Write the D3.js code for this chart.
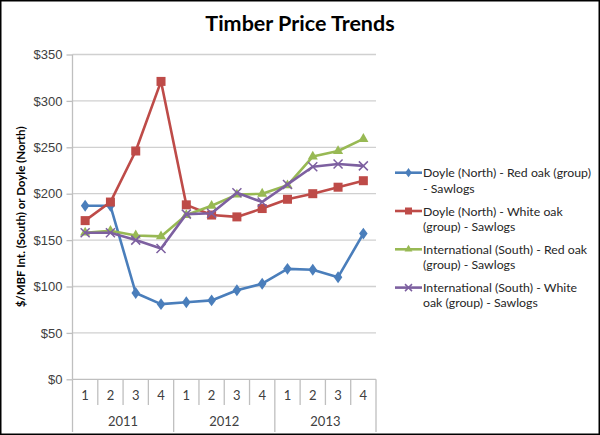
<!DOCTYPE html>
<html>
<head>
<meta charset="utf-8">
<script src="https://cdn.jsdelivr.net/npm/d3@7"></script>
<style>
  html, body { margin: 0; padding: 0; background: #fff; }
  svg { display: block; font-family: Lato, "Open Sans", sans-serif; }
  .tick-label { fill: #404040; font-size: 13px; }
  .legend text { fill: #262626; font-size: 12.3px; }
</style>
</head>
<body>
<div id="chart"></div>
<script>
// quarters and years on the category axis
const quarters = ["1", "2", "3", "4", "1", "2", "3", "4", "1", "2", "3", "4"];
const years = ["2011", "2012", "2013"];

// $/MBF
const doyleRedOak = [187, 187, 93, 81, 83, 85, 96, 103, 119, 118, 110, 157];
const doyleWhiteOak = [171, 191, 246, 321, 188, 177, 175, 184, 194, 200, 207, 214];
const intlRedOak = [158, 160, 155, 154, 177, 187, 199, 200, 209, 240, 246, 259];
const intlWhiteOak = [158, 158, 150, 141, 178, 179, 201, 191, 210, 229, 232, 230];

const yTicks = [0, 50, 100, 150, 200, 250, 300, 350];

const seriesNames = [
    ["Doyle (North) - Red oak (group)", "- Sawlogs"],
    ["Doyle (North) - White oak", "(group) - Sawlogs"],
    ["International (South) - Red oak", "(group) - Sawlogs"],
    ["International (South) - White", "oak (group) - Sawlogs"]
];

const series = [
    { values: doyleRedOak, color: "#4A7EBB", marker: "diamond" },
    { values: doyleWhiteOak, color: "#BE4B48", marker: "square" },
    { values: intlRedOak, color: "#98B954", marker: "triangle" },
    { values: intlWhiteOak, color: "#7D60A0", marker: "x" }
];

const width = 600, height = 435;
const plot = { left: 72.5, right: 376, top: 54.5, bottom: 379.3 };

const svg = d3.select("#chart")
    .append("svg")
    .attr("width", width)
    .attr("height", height);

// outer frame
svg.append("rect")
    .attr("x", 0.75).attr("y", 0.75)
    .attr("width", width - 1.5).attr("height", height - 1.5)
    .attr("fill", "#fff")
    .attr("stroke", "#000")
    .attr("stroke-width", 1.5);

svg.append("text")
    .attr("x", 300)
    .attr("y", 31)
    .attr("text-anchor", "middle")
    .attr("font-size", "21.5px")
    .attr("font-weight", "bold")
    .attr("fill", "#000")
    .text("Timber Price Trends");

const xScale = d3.scaleBand()
    .domain(d3.range(quarters.length))
    .range([plot.left, plot.right]);

const yScale = d3.scaleLinear()
    .domain([0, 350])
    .range([plot.bottom, plot.top]);

// gridlines
svg.append("g")
    .selectAll("line")
    .data(yTicks.filter(d => d > 0))
    .enter()
    .append("line")
    .attr("x1", plot.left)
    .attr("x2", plot.right)
    .attr("y1", d => yScale(d))
    .attr("y2", d => yScale(d))
    .attr("stroke", "#D0D0D0")
    .attr("stroke-width", 1.3);

// y axis
const yAxis = svg.append("g")
    .attr("transform", `translate(${plot.left},0)`)
    .call(d3.axisLeft(yScale).tickValues(yTicks).tickSize(6).tickPadding(4).tickFormat(d => "$" + d));
yAxis.select(".domain").attr("stroke", "#BFBFBF").attr("stroke-width", 1.3)
    .attr("d", `M0,${plot.top}V${plot.bottom}`);
yAxis.selectAll(".tick line").attr("stroke", "#BFBFBF").attr("stroke-width", 1.3);
yAxis.selectAll(".tick text").attr("class", "tick-label").attr("font-family", null).attr("font-size", null);

// x axis (quarters nested in years)
const xAxis = svg.append("g");
xAxis.append("line")
    .attr("x1", plot.left).attr("x2", plot.right)
    .attr("y1", plot.bottom).attr("y2", plot.bottom)
    .attr("stroke", "#BFBFBF").attr("stroke-width", 1.3);

const bw = xScale.bandwidth();
xAxis.selectAll(".qsep")
    .data(d3.range(quarters.length + 1))
    .enter()
    .append("line")
    .attr("x1", i => i < quarters.length ? xScale(i) : plot.right)
    .attr("x2", i => i < quarters.length ? xScale(i) : plot.right)
    .attr("y1", plot.bottom)
    .attr("y2", i => i % 4 === 0 ? 432 : 405)
    .attr("stroke", "#BFBFBF").attr("stroke-width", 1.3);

xAxis.selectAll(".qlabel")
    .data(quarters)
    .enter()
    .append("text")
    .attr("class", "tick-label")
    .attr("x", (d, i) => xScale(i) + bw / 2)
    .attr("y", 400)
    .attr("text-anchor", "middle")
    .text(d => d);

xAxis.selectAll(".ylabel")
    .data(years)
    .enter()
    .append("text")
    .attr("class", "tick-label")
    .attr("x", (d, i) => xScale(i * 4) + bw * 2)
    .attr("y", 425.5)
    .attr("text-anchor", "middle")
    .text(d => d);

// y axis title
svg.append("text")
    .attr("transform", `translate(25,${(plot.top + plot.bottom) / 2}) rotate(-90)`)
    .attr("text-anchor", "middle")
    .attr("font-size", "11.5px")
    .attr("font-weight", "bold")
    .attr("fill", "#000")
    .text("$/MBF Int. (South) or Doyle (North)");

function drawMarker(g, type, color, size) {
    if (type === "diamond") {
        g.append("path").attr("d", d3.symbol(d3.symbolDiamond, size * size * 0.5)()).attr("fill", color)
            .attr("transform", "scale(1.25,1)");
    } else if (type === "square") {
        g.append("rect").attr("x", -size / 2).attr("y", -size / 2).attr("width", size).attr("height", size)
            .attr("fill", color);
    } else if (type === "triangle") {
        g.append("path").attr("d", d3.symbol(d3.symbolTriangle, size * size * 0.55)()).attr("fill", color);
    } else {
        const h = size / 2;
        g.append("path").attr("d", `M${-h},${-h}L${h},${h}M${-h},${h}L${h},${-h}`)
            .attr("stroke", color).attr("stroke-width", 1.5).attr("fill", "none");
    }
}

const line = d3.line()
    .x((d, i) => xScale(i) + bw / 2)
    .y(d => yScale(d));

series.forEach(s => {
    const g = svg.append("g");
    g.append("path")
        .datum(s.values)
        .attr("d", line)
        .attr("fill", "none")
        .attr("stroke", s.color)
        .attr("stroke-width", 2.6)
        .attr("stroke-linejoin", "round");
    g.selectAll(".pt")
        .data(s.values)
        .enter()
        .append("g")
        .attr("transform", (d, i) => `translate(${xScale(i) + bw / 2},${yScale(d)})`)
        .each(function() { drawMarker(d3.select(this), s.marker, s.color, 9); });
});

// legend
const legend = svg.append("g").attr("class", "legend");
series.forEach((s, k) => {
    const y0 = 172.7 + k * 38.3;
    const item = legend.append("g");
    item.append("line")
        .attr("x1", 395).attr("x2", 422)
        .attr("y1", y0).attr("y2", y0)
        .attr("stroke", s.color).attr("stroke-width", 2.6);
    const m = item.append("g").attr("transform", `translate(408.5,${y0})`);
    drawMarker(m, s.marker, s.color, 7);
    seriesNames[k].forEach((txt, j) => {
        item.append("text")
            .attr("x", 423)
            .attr("y", y0 + 4.5 + j * 15.3)
            .text(txt);
    });
});
</script>
</body>
</html>
